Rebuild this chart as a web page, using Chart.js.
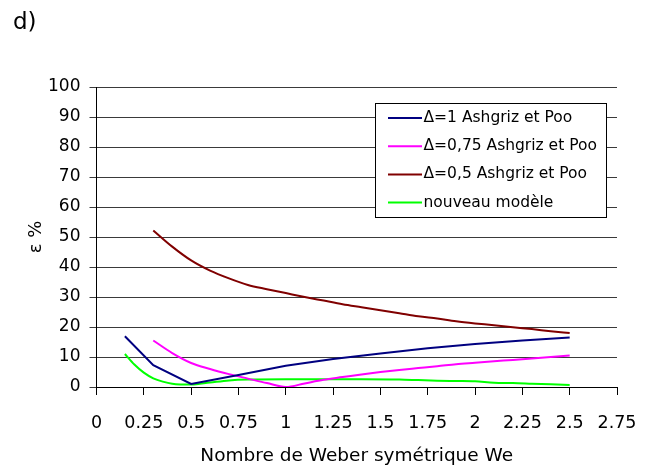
<!DOCTYPE html>
<html>
<head>
<meta charset="utf-8">
<script src="https://cdn.jsdelivr.net/npm/chart.js@4"></script>
<style>
html,body{margin:0;padding:0;background:#fff;}
#wrap{width:651px;height:473px;position:relative;}
</style>
</head>
<body>
<div id="wrap"><canvas id="c" width="651" height="473"></canvas></div>
<script>
// ---- data ----
const seriesLabels = ["Δ=1 Ashgriz et Poo", "Δ=0,75 Ashgriz et Poo", "Δ=0,5 Ashgriz et Poo", "nouveau modèle"];

const xDelta1 = [0.15, 0.3, 0.5, 0.75, 1.0, 1.25, 1.5, 1.75, 2.0, 2.25, 2.5];
const yDelta1 = [16.9, 7.3, 1.0, 4.0, 7.1, 9.3, 11.2, 12.9, 14.3, 15.5, 16.5];

const xDelta075 = [0.3, 0.4, 0.5, 0.6, 0.7, 0.8, 0.9, 1.0, 1.1, 1.2, 1.3, 1.4, 1.5, 1.6, 1.7, 1.8, 1.9, 2.0, 2.1, 2.2, 2.3, 2.4, 2.5];
const yDelta075 = [15.5, 11.3, 8.0, 6.0, 4.3, 2.8, 1.3, 0.0, 1.2, 2.4, 3.3, 4.2, 5.0, 5.7, 6.3, 6.9, 7.6, 8.1, 8.6, 9.0, 9.5, 10.0, 10.5];

const xDelta05 = [0.3, 0.4, 0.5, 0.6, 0.7, 0.8, 0.9, 1.0, 1.1, 1.2, 1.3, 1.4, 1.5, 1.6, 1.7, 1.8, 1.9, 2.0, 2.1, 2.2, 2.3, 2.4, 2.5];
const yDelta05 = [52.2, 46.8, 42.2, 38.8, 36.2, 34.0, 32.6, 31.3, 30.0, 28.8, 27.6, 26.6, 25.6, 24.6, 23.6, 22.8, 21.9, 21.2, 20.6, 19.9, 19.3, 18.6, 18.0];

const xModel = [0.15, 0.2, 0.25, 0.3, 0.35, 0.4, 0.5, 0.6, 0.7, 0.8, 1.0, 1.2, 1.4, 1.6, 1.7, 1.8, 1.9, 2.0, 2.1, 2.2, 2.3, 2.4, 2.5];
const yModel = [11.0, 7.5, 4.8, 2.9, 1.8, 1.1, 0.8, 1.5, 2.2, 2.5, 2.6, 2.6, 2.6, 2.5, 2.3, 2.1, 2.0, 1.9, 1.4, 1.3, 1.1, 0.9, 0.7];

const xTickLabels = ["0", "0.25", "0.5", "0.75", "1", "1.25", "1.5", "1.75", "2", "2.25", "2.5", "2.75"];
const yTickLabels = ["0", "10", "20", "30", "40", "50", "60", "70", "80", "90", "100"];

const panelLabel = "d)";
const xTitle = "Nombre de Weber symétrique We";
const yTitle = "ε %";

const colors = ["#000080", "#FF00FF", "#800000", "#00FF00"];

function pts(xs, ys){ return xs.map((x,i)=>({x:x, y:ys[i]})); }

const FONT = "'DejaVu Sans', sans-serif";

const extras = {
  id: 'extras',
  afterDraw(chart){
    const ctx = chart.ctx;
    ctx.save();
    // panel label
    ctx.fillStyle = '#000';
    ctx.font = "23px " + FONT;
    ctx.textBaseline = 'alphabetic';
    ctx.textAlign = 'left';
    ctx.fillText(panelLabel, 13, 29);
    // legend box
    const bx = 375.5, by = 103.5, bw = 231, bh = 114;
    ctx.fillStyle = '#fff';
    ctx.fillRect(bx, by, bw, bh);
    ctx.strokeStyle = '#000';
    ctx.lineWidth = 1;
    ctx.strokeRect(bx, by, bw, bh);
    ctx.font = "15.5px " + FONT;
    ctx.textBaseline = 'middle';
    chart.data.datasets.forEach((ds, i) => {
      const yy = 118 + i * 28.2;
      ctx.strokeStyle = ds.borderColor;
      ctx.lineWidth = 2;
      ctx.beginPath();
      ctx.moveTo(388, yy);
      ctx.lineTo(422, yy);
      ctx.stroke();
      ctx.fillStyle = '#000';
      ctx.fillText(ds.label, 423.5, yy);
    });
    ctx.restore();
  }
};

const smooth = {tension: 0.3, cubicInterpolationMode: 'monotone'};
const straight = {tension: 0};

new Chart(document.getElementById('c'), {
  type: 'line',
  data: {
    datasets: [
      Object.assign({label: seriesLabels[0], data: pts(xDelta1, yDelta1), borderColor: colors[0]}, straight),
      Object.assign({label: seriesLabels[1], data: pts(xDelta075, yDelta075), borderColor: colors[1]}, smooth),
      Object.assign({label: seriesLabels[2], data: pts(xDelta05, yDelta05), borderColor: colors[2]}, smooth),
      Object.assign({label: seriesLabels[3], data: pts(xModel, yModel), borderColor: colors[3]}, smooth)
    ].map(d => Object.assign(d, {borderWidth: 2, pointRadius: 0, fill: false}))
  },
  options: {
    responsive: false,
    animation: false,
    layout: {padding: {top: 87, right: 34, bottom: 0, left: 0}},
    plugins: {legend: {display: false}, tooltip: {enabled: false}},
    scales: {
      x: {
        type: 'linear', min: 0, max: 2.75,
        afterFit(s){ s.height = 86; s.paddingRight = 0; s.paddingLeft = 0; },
        afterBuildTicks(s){ s.ticks = xTickLabels.map(t => ({value: parseFloat(t)})); },
        ticks: {
          autoSkip: false, maxRotation: 0, padding: 18, color: '#000',
          font: {family: FONT, size: 17.5},
          callback: (v, i) => xTickLabels[i]
        },
        grid: {drawOnChartArea: false, drawTicks: true, tickLength: 8, color: '#000', tickColor: '#000'},
        border: {color: '#000', width: 1},
        title: {display: true, text: xTitle, color: '#000', font: {family: FONT, size: 18.5}, padding: {top: 0, bottom: 6}}
      },
      y: {
        min: 0, max: 100,
        afterFit(s){ s.width = 96.5; },
        afterBuildTicks(s){ s.ticks = yTickLabels.map(t => ({value: parseFloat(t)})); },
        ticks: {
          padding: 9, color: '#000',
          font: {family: FONT, size: 17},
          callback: (v, i) => yTickLabels[i]
        },
        grid: {color: '#3a3a3a', tickColor: '#3a3a3a', tickLength: 7, lineWidth: 1},
        border: {color: '#000', width: 1},
        title: {display: true, text: yTitle, color: '#000', font: {family: FONT, size: 18}, padding: {top: 26, bottom: 0}}
      }
    }
  },
  plugins: [extras]
});
</script>
</body>
</html>
